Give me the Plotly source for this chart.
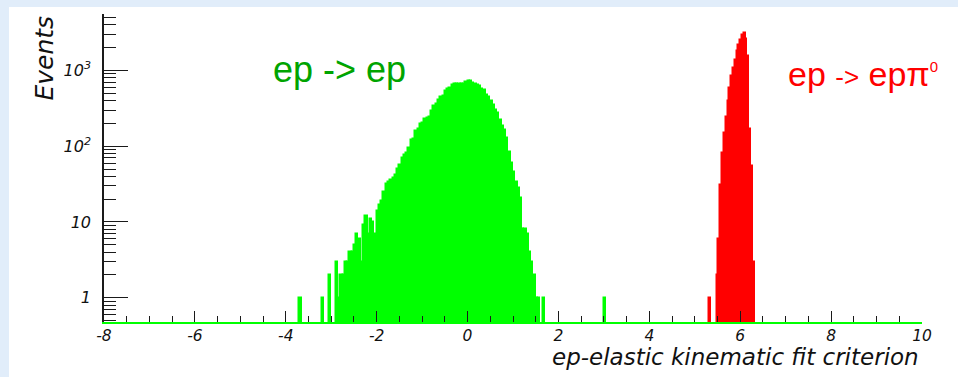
import numpy as np
import plotly.graph_objects as go

# ---- histogram contents -------------------------------------------------
# ep -> ep candidates, 0.05-wide bins, first bin starts at -3.70
green_lo = -3.70
green_bw = 0.05
green_counts = [
    1, 0, 0, 0, 0, 0, 0, 0, 0, 0,            # -3.70 .. -3.25
    1, 0, 0, 2, 0, 0, 3, 1, 2, 2,            # -3.20 .. -2.75
    3, 3, 4, 4, 5, 7, 6, 3, 9, 12,           # -2.70 .. -2.25
    7, 11, 10, 7, 14, 17, 19, 25, 32, 34,    # -2.20 .. -1.75
    36, 38, 42, 50, 57, 70, 76, 82, 94, 120, # -1.70 .. -1.25
    124, 157, 170, 195, 205, 232, 238, 245, 290, 340,  # -1.20 .. -0.75
    360, 410, 450, 465, 530, 575, 590, 640, 655, 665,  # -0.70 .. -0.25
    670, 672, 668, 710, 718, 720, 680, 665, 650, 615,  # -0.20 .. 0.25
    575, 545, 480, 440, 400, 355, 300, 275, 225, 185,  # 0.30 .. 0.75
    165, 128, 85, 60, 46, 34, 28, 21, 8, 8,            # 0.80 .. 1.25
    7, 4, 3, 2, 1, 1, 0, 1, 0, 0,                      # 1.30 .. 1.75
    0, 0, 0, 0, 0, 0, 0, 0, 0, 0,                      # 1.80 .. 2.25
    0, 0, 0, 0, 0, 0, 0, 0, 0, 0,                      # 2.30 .. 2.75
    0, 0, 0, 0, 1,                                     # 2.80 .. 3.00
]

# ep -> ep pi0 candidates, 0.04-wide bins, first bin starts at 5.32
red_lo = 5.32
red_bw = 0.04
red_counts = [
    1, 0, 0, 0,                                # 5.32 .. 5.44
    2, 6, 31, 82, 150, 240, 390, 590, 840,     # 5.48 .. 5.80
    1090, 1390, 1800, 2200, 2560, 2950, 3150,  # 5.84 .. 6.08
    2600, 1540, 170, 54, 3,                    # 6.12 .. 6.28
]

x_tick_vals = [-8, -6, -4, -2, 0, 2, 4, 6, 8, 10]
x_tick_text = ["-8", "-6", "-4", "-2", "0", "2", "4", "6", "8", "10"]
y_tick_vals = [1, 10, 100, 1000]
y_tick_text = ["1", "10", "10<sup>2</sup>", "10<sup>3</sup>"]

green_x = green_lo + green_bw * (np.arange(len(green_counts)) + 0.5)
red_x = red_lo + red_bw * (np.arange(len(red_counts)) + 0.5)

# ---- canvas geometry (pixels) ------------------------------------------
W, H = 958, 377
L, R, T, B = 104, 36, 14, 55
PW, PH = W - L - R, H - T - B


def px(x):
    return (x - L) / PW


def py(y):
    return (H - B - y) / PH


SANS = "Liberation Sans, Arial, Helvetica, sans-serif"
AXFONT = "DejaVu Sans, Verdana, sans-serif"
GREEN = "#00ff00"
RED = "#ff0000"
AXIS = "#1a1a1a"
INK = "#111111"

fig = go.Figure()
fig.add_bar(
    x=green_x, y=green_counts, width=green_bw,
    marker=dict(color=GREEN, line=dict(color=GREEN, width=1.5)),
)
fig.add_bar(
    x=red_x, y=red_counts, width=red_bw,
    marker=dict(color=RED, line=dict(color=RED, width=1.5)),
)

# minor tick marks of the log axis: 2..9 of every decade
y_minor = [m * 10.0 ** e for e in range(-1, 4) for m in range(2, 10)]

fig.update_layout(
    width=W, height=H,
    margin=dict(l=L, r=R, t=T, b=B, pad=0),
    paper_bgcolor="#e1edfa",
    plot_bgcolor="rgba(0,0,0,0)",
    barmode="overlay", bargap=0, showlegend=False,
    font=dict(family=AXFONT, color=INK),
    xaxis=dict(
        range=[-8, 10], tickmode="array", tickvals=x_tick_vals, ticktext=x_tick_text,
        ticks="inside", ticklen=11, tickwidth=1.3, tickcolor=AXIS,
        showline=True, linecolor=GREEN, linewidth=2.2,
        showgrid=False, zeroline=False, ticklabelstandoff=-2,
        tickfont=dict(family=AXFONT, size=15.5, style="italic", color=INK),
        minor=dict(dtick=0.5, tick0=-8, ticks="inside", ticklen=6,
                   tickwidth=1.3, tickcolor=AXIS, showgrid=False),
    ),
    yaxis=dict(
        type="log", range=[-0.32, 3.745],
        tickmode="array", tickvals=y_tick_vals, ticktext=y_tick_text,
        ticks="inside", ticklen=24, tickwidth=1.3, tickcolor=AXIS,
        showline=True, linecolor=AXIS, linewidth=1.6,
        showgrid=False, zeroline=False, ticklabelstandoff=8,
        tickfont=dict(family=AXFONT, size=16, style="italic", color=INK),
        minor=dict(tickmode="array", tickvals=y_minor, ticks="inside", ticklen=12,
                   tickwidth=1.2, tickcolor=AXIS, showgrid=False),
    ),
    shapes=[
        dict(type="rect", xref="paper", yref="paper", layer="below",
             x0=px(9), x1=px(W + 5), y0=py(H + 5), y1=py(7),
             fillcolor="white", line=dict(width=0)),
    ],
    annotations=[
        dict(text="Events", textangle=-90, xref="paper", yref="paper",
             x=px(44), y=py(13), xanchor="center", yanchor="top", showarrow=False,
             font=dict(family=AXFONT, size=25, style="italic", color=INK)),
        dict(text="ep-elastic kinematic fit criterion", xref="paper", yref="paper",
             x=px(921), y=py(357), xanchor="right", yanchor="middle", showarrow=False,
             font=dict(family=AXFONT, size=23, style="italic", color=INK)),
        dict(text="ep -> ep", xref="paper", yref="paper",
             x=px(339), y=py(70), xanchor="center", yanchor="middle", showarrow=False,
             font=dict(family=SANS, size=36, color="#00a400")),
        dict(text="ep <span style='font-size:26px'>-></span> epπ"
                  "<sup><span style='font-size:15px'>0</span></sup>",
             xref="paper", yref="paper",
             x=px(786), y=py(74), xanchor="left", yanchor="middle", showarrow=False,
             font=dict(family=SANS, size=34, color=RED)),
    ],
)

fig.write_html("out.html")
